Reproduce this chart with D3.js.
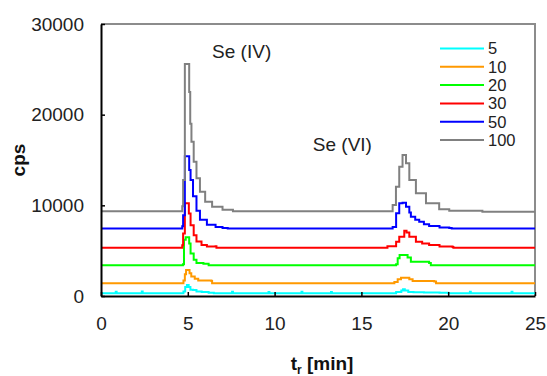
<!DOCTYPE html>
<html>
<head>
<meta charset="utf-8">
<script src="https://cdn.jsdelivr.net/npm/d3@7"></script>
<style>
  html, body { margin: 0; padding: 0; background: #fff; }
  svg { display: block; font-family: "Liberation Sans", Arial, sans-serif; }
</style>
</head>
<body>
<svg id="chart" width="547" height="376"></svg>
<script>
// Chromatograms of Se(IV) / Se(VI) at increasing concentrations: [t_r (min), cps]
const seriesNames = ["5", "10", "20", "30", "50", "100"];
const seriesColors = ["#00FFFF", "#FF9900", "#00FF00", "#FF0000", "#0000FF", "#808080"];

const s5 = [
  [0, 300], [0.8, 300], [0.85, 480], [0.9, 300], [2.3, 300], [2.35, 500], [2.4, 300],
  [4.6, 300], [4.75, 500], [4.85, 1000], [4.95, 1210], [5.05, 1000], [5.15, 700],
  [5.3, 650], [5.5, 500], [5.8, 450], [6.2, 350], [6.5, 300], [7.5, 300], [7.55, 480],
  [7.6, 300], [9.6, 300], [9.65, 450], [9.7, 300], [11.5, 300], [11.55, 480], [11.6, 300],
  [13.2, 300], [13.25, 450], [13.3, 300], [16.9, 300], [17.0, 450], [17.3, 600],
  [17.4, 740], [17.5, 600], [17.7, 450], [18.0, 400], [18.6, 380], [19.5, 350],
  [20.0, 300], [21.2, 300], [21.25, 480], [21.3, 300], [23.6, 300], [23.65, 480],
  [23.7, 300], [25, 300]
];
const s10 = [
  [0, 1400], [4.6, 1400], [4.75, 1700], [4.83, 2400], [4.9, 2870], [5.02, 2870],
  [5.1, 2500], [5.2, 2150], [5.4, 1900], [5.6, 1700], [6.36, 1650], [6.4, 1400],
  [16.8, 1400], [16.9, 1550], [17.09, 1840], [17.28, 2020], [17.66, 2020],
  [17.76, 1840], [17.95, 1650], [19.2, 1600], [19.3, 1400], [25, 1400]
];
const s20 = [
  [0, 3400], [4.6, 3400], [4.72, 3500], [4.78, 6200], [4.88, 6470], [5.02, 6470],
  [5.08, 5800], [5.16, 4700], [5.34, 4000], [5.5, 3650], [5.9, 3550], [6.2, 3400],
  [16.8, 3400], [17.0, 3500], [17.09, 4150], [17.2, 4520], [17.57, 4520],
  [17.66, 4260], [17.85, 3780], [18.9, 3650], [19.0, 3400], [25, 3400]
];
const s30 = [
  [0, 5320], [4.6, 5320], [4.68, 5600], [4.73, 6900], [4.83, 10220], [4.95, 10220],
  [5.06, 9100], [5.16, 7800], [5.34, 6700], [5.5, 6000], [5.79, 5620], [6.1, 5450],
  [6.6, 5500], [6.65, 5320], [16.4, 5320], [16.5, 5500], [17.0, 5990], [17.18, 6540],
  [17.47, 7200], [17.6, 7000], [17.76, 6540], [18.14, 5990], [18.5, 5800],
  [18.9, 5620], [19.5, 5450], [20.25, 5400], [20.3, 5320], [25, 5320]
];
const s50 = [
  [0, 7450], [4.6, 7450], [4.68, 7700], [4.73, 8900], [4.83, 15400], [5.02, 15400],
  [5.08, 13900], [5.16, 12800], [5.3, 11000], [5.5, 9400], [5.7, 8400], [6.1, 7850],
  [6.6, 7600], [7.0, 7500], [7.3, 7450], [16.6, 7450], [16.8, 7600], [17.0, 9120],
  [17.18, 10220], [17.37, 10290], [17.57, 9850], [17.76, 9200], [17.85, 8740],
  [18.1, 8400], [18.33, 8190], [18.6, 7900], [18.9, 7720], [19.5, 7550],
  [20.06, 7500], [20.2, 7450], [25, 7450]
];
const s100 = [
  [0, 9350], [4.6, 9350], [4.68, 9900], [4.73, 12800], [4.83, 25600], [5.02, 25600],
  [5.08, 22500], [5.14, 19000], [5.21, 17000], [5.34, 14800], [5.5, 13000],
  [5.7, 11500], [6.0, 10400], [6.4, 9850], [7.0, 9500], [7.6, 9350], [16.03, 9350],
  [16.8, 10030], [16.99, 12050], [17.18, 14250], [17.37, 15550], [17.57, 14630],
  [17.76, 12790], [18.14, 11320], [18.72, 10220], [19.48, 9560], [20.06, 9400],
  [21.97, 9300], [25, 9300]
];
const seriesData = [s5, s10, s20, s30, s50, s100];

const xTicks = [0, 5, 10, 15, 20, 25];
const yTicks = [0, 10000, 20000, 30000];
const peakLabels = [
  { text: "Se (IV)", t: 6.4, v: 26300 },
  { text: "Se (VI)", t: 12.2, v: 15950 }
];

const svg = d3.select("#chart");
const plot = { left: 101, right: 535, top: 24, bottom: 296 };

const x = d3.scaleLinear().domain([0, 25]).range([plot.left, plot.right]);
const y = d3.scaleLinear().domain([0, 30000]).range([plot.bottom, plot.top]);

// plot frame: grey top/right edges
svg.append("path")
  .attr("d", `M${plot.left},${plot.top}H${plot.right}V${plot.bottom}`)
  .attr("fill", "none").attr("stroke", "#8c8c8c").attr("stroke-width", 2);

// series
const line = d3.line()
  .x(d => x(d[0])).y(d => y(d[1]))
  .curve(d3.curveStepAfter);

seriesData.forEach((s, i) => {
  svg.append("path")
    .datum(s)
    .attr("d", line)
    .attr("fill", "none")
    .attr("stroke", seriesColors[i])
    .attr("stroke-width", 2)
    .attr("stroke-linejoin", "miter");
});

// axes
const yAxis = svg.append("g")
  .attr("transform", `translate(${plot.left},0)`)
  .call(d3.axisLeft(y).tickValues(yTicks).tickFormat(d3.format("d"))
    .tickSizeInner(-4).tickSizeOuter(0).tickPadding(17));
const xAxis = svg.append("g")
  .attr("transform", `translate(0,${plot.bottom})`)
  .call(d3.axisBottom(x).tickValues(xTicks).tickFormat(d3.format("d"))
    .tickSizeInner(-4).tickSizeOuter(0).tickPadding(21));

[yAxis, xAxis].forEach(g => {
  g.select(".domain").attr("stroke", "#000").attr("stroke-width", 2);
  g.selectAll(".tick line").attr("stroke", "#000").attr("stroke-width", 1.5);
  g.selectAll(".tick text")
    .attr("fill", "#222")
    .style("font-family", "'Liberation Sans', Arial, sans-serif")
    .style("font-size", "19px");
});

// axis titles
svg.append("text")
  .attr("transform", "translate(25,160) rotate(-90)")
  .attr("text-anchor", "middle")
  .style("font-size", "19px").style("font-weight", "bold")
  .attr("fill", "#111")
  .text("cps");

const xt = svg.append("text")
  .attr("x", 322).attr("y", 370)
  .attr("text-anchor", "middle")
  .style("font-size", "19px").style("font-weight", "bold")
  .attr("fill", "#111");
xt.append("tspan").text("t");
xt.append("tspan").attr("dy", 4).style("font-size", "12px").text("r");
xt.append("tspan").attr("dy", -4).text(" [min]");

// peak annotations
peakLabels.forEach(p => {
  svg.append("text")
    .attr("x", x(p.t)).attr("y", y(p.v))
    .style("font-size", "19px")
    .attr("fill", "#222")
    .text(p.text);
});

// legend
const legend = svg.append("g");
seriesNames.forEach((name, i) => {
  const ly = 48.5 + i * 18.3;
  legend.append("line")
    .attr("x1", 440).attr("x2", 484)
    .attr("y1", ly).attr("y2", ly)
    .attr("stroke", seriesColors[i]).attr("stroke-width", 2);
  legend.append("text")
    .attr("x", 488).attr("y", ly)
    .attr("dy", "0.36em")
    .style("font-size", "16.5px")
    .attr("fill", "#222")
    .text(name);
});
</script>
</body>
</html>
